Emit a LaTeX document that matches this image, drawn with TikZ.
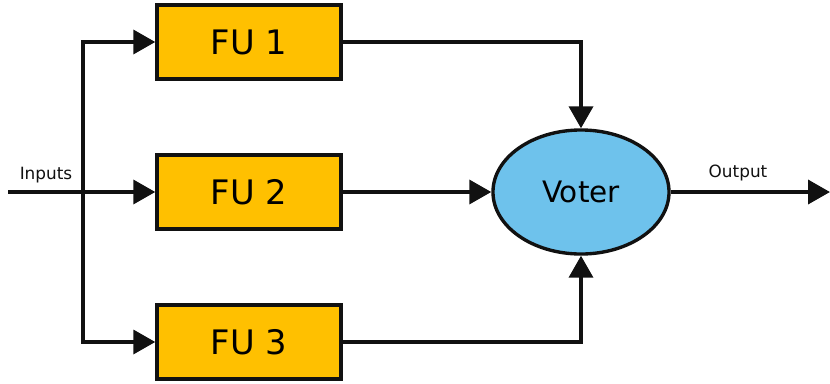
\documentclass[tikz,border=0pt]{standalone}
\usepackage{fontspec}
\setmainfont{DejaVu Sans}
\usetikzlibrary{arrows.meta,shapes.geometric}
\definecolor{ink}{HTML}{111111}
\definecolor{fugold}{HTML}{FFC000}
\definecolor{voterblue}{HTML}{6EC2EC}
\tikzset{
  >={Triangle[length=5.5mm,width=6mm]},
  fubox/.style={draw=ink, fill=fugold, line width=2.4pt,
    minimum width=4.6cm, minimum height=1.85cm, inner sep=0pt,
    font=\fontsize{24}{28}\selectfont},
  voter/.style={ellipse, draw=ink, fill=voterblue, line width=2.4pt,
    minimum width=4.4cm, minimum height=3.1cm, inner sep=0pt,
    font=\fontsize{21}{24}\selectfont},
  wire/.style={->, draw=ink, line width=2.6pt},
  tag/.style={font=\fontsize{12}{14}\selectfont, text=ink}
}
\begin{document}
\begin{tikzpicture}[x=0.025cm,y=-0.025cm]
\useasboundingbox (0,0) rectangle (830,383);
\foreach \y/\name/\lab in {42/fu1/FU 1,192/fu2/FU 2,342/fu3/FU 3}
  \node[fubox] (\name) at (249,\y) {\lab};
\node[voter] (vt) at (581,192) {Voter};

% inputs and fan-out
\coordinate (inp) at (8,192);
\coordinate (split) at (83,192);
\coordinate (outp) at (830,192);
\draw[wire] (inp) -- (fu2.west);
\draw[wire] (split) -- (split |- fu1) -- (fu1.west);
\draw[wire] (split) -- (split |- fu3) -- (fu3.west);
\node[tag] (intag) at (46,175) {Inputs};

% into the voter
\draw[wire] (fu1.east) -| (vt.north);
\draw[wire] (fu2.east) -- (vt.west);
\draw[wire] (fu3.east) -| (vt.south);
\draw[wire] (vt.east) -- (outp);
\node[tag] (outtag) at (738,173) {Output};
\end{tikzpicture}
\end{document}
